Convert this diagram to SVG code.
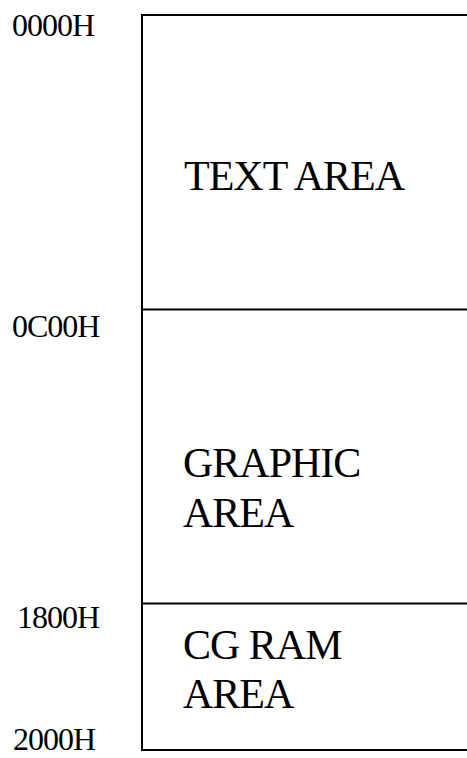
<svg xmlns="http://www.w3.org/2000/svg" width="467" height="758" viewBox="0 0 467 758">
<style>
.addr{font-family:"Liberation Serif","Times New Roman",serif;font-size:32px;letter-spacing:-1px;fill:#000}
.lbl{font-family:"Liberation Serif","Times New Roman",serif;font-size:42px;letter-spacing:-1px;fill:#000}
.ln{stroke:#000;stroke-width:2;fill:none}
</style>
<rect width="467" height="758" fill="#fff"/>
<g id="connectors">
<path class="ln" d="M467,15 H142 V750 H467"/>
</g>
<g id="text-area">
<line class="ln" x1="142" y1="309.5" x2="467" y2="309.5"/>
<text class="lbl" x="184" y="190">TEXT AREA</text>
</g>
<g id="graphic-area">
<text class="lbl" x="183" y="477">GRAPHIC</text>
<text class="lbl" x="183" y="527">AREA</text>
</g>
<g id="cgram-area">
<line class="ln" x1="142" y1="603.5" x2="467" y2="603.5"/>
<text class="lbl" x="183" y="659">CG RAM</text>
<text class="lbl" x="183" y="708">AREA</text>
</g>
<g id="addresses">
<text class="addr" x="12" y="36">0000H</text>
<text class="addr" x="12" y="337">0C00H</text>
<text class="addr" x="17" y="628">1800H</text>
<text class="addr" x="13" y="750">2000H</text>
</g>
</svg>
